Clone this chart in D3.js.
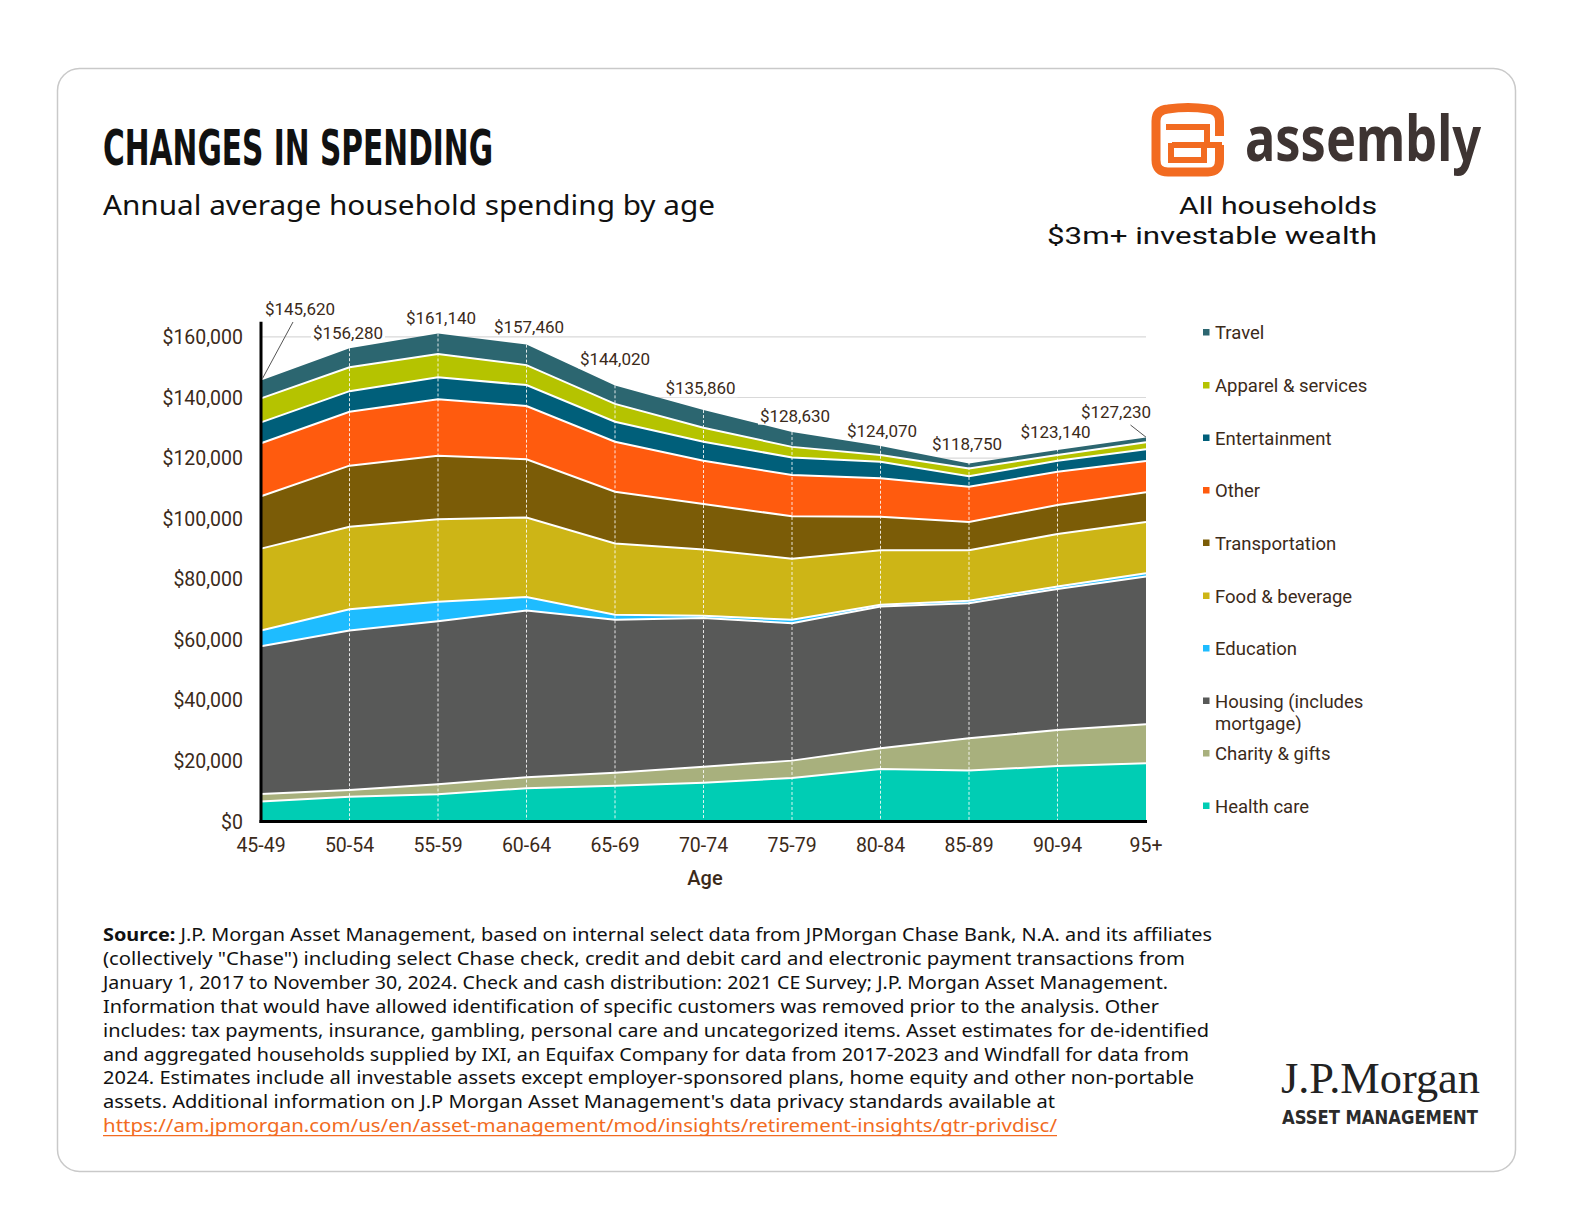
<!DOCTYPE html>
<html>
<head>
<meta charset="utf-8">
<script src="https://cdn.jsdelivr.net/npm/d3@7"></script>
<style>
  html, body { margin: 0; padding: 0; background: #fff; }
  svg { display: block; }
</style>
</head>
<body>
<svg id="chart" width="1584" height="1224"></svg>
<script>
// age buckets
const ages = ['45-49', '50-54', '55-59', '60-64', '65-69', '70-74', '75-79', '80-84', '85-89', '90-94', '95+'];

// series values in $ thousands (bottom of the stack first)
const healthCare     = [6.6, 8.2, 9.0, 11.0, 11.8, 12.8, 14.4, 17.3, 16.8, 18.3, 19.2];
const charityGifts   = [2.5, 2.2, 3.3, 3.6, 4.3, 5.3, 5.7, 6.9, 10.7, 11.9, 12.9];
const housing        = [48.8, 52.7, 53.8, 55.1, 50.5, 49.1, 45.4, 46.8, 44.6, 46.6, 48.8];
const education      = [5.2, 7.0, 6.5, 4.4, 1.7, 0.7, 1.1, 0.6, 0.8, 0.8, 1.1];
const foodBeverage   = [27.0, 27.2, 27.2, 26.3, 23.5, 21.9, 20.2, 18.0, 16.7, 17.3, 16.9];
const transportation = [17.3, 20.2, 21.0, 19.2, 17.1, 15.0, 14.0, 11.0, 9.3, 9.6, 9.8];
const other          = [17.5, 17.8, 18.6, 17.6, 16.5, 14.3, 13.6, 12.7, 11.6, 11.0, 10.3];
const entertainment  = [6.9, 6.8, 7.3, 6.9, 6.6, 6.3, 5.8, 5.5, 3.5, 3.6, 3.9];
const apparel        = [7.9, 7.9, 7.7, 6.6, 5.9, 4.6, 3.5, 2.2, 2.6, 1.9, 2.3];
const travel         = [5.9, 6.3, 6.7, 6.8, 6.1, 5.9, 4.9, 3.0, 1.6, 1.7, 1.6];

// totals printed above the stack
const totals = [145620, 156280, 161140, 157460, 144020, 135860, 128630, 124070, 118750, 123140, 127230];

const yTicks = [0, 20000, 40000, 60000, 80000, 100000, 120000, 140000, 160000];

const seriesNames = ['Health care', 'Charity & gifts', 'Housing (includes mortgage)', 'Education',
  'Food & beverage', 'Transportation', 'Other', 'Entertainment', 'Apparel & services', 'Travel'];
const seriesValues = [healthCare, charityGifts, housing, education, foodBeverage,
  transportation, other, entertainment, apparel, travel];
const seriesColors = ['#00CDB4', '#A8B07D', '#585958', '#1EBCFF', '#CDB516',
  '#7B5C07', '#FF5B0E', '#005F7A', '#B5C300', '#2C6670'];

// small nudges for the total labels (layout only)
const labelDx = [39, -1.5, 3, 2.5, 0, -3, 3, 1.5, -2, -2, -30];
const labelDy = [-71.5, -15.5, -15.2, -18, -26, -21.8, -16.3, -14.8, -18, -16.3, -24];

const footLines = [
  'J.P. Morgan Asset Management, based on internal select data from JPMorgan Chase Bank, N.A. and its affiliates',
  '(collectively "Chase") including select Chase check, credit and debit card and electronic payment transactions from',
  'January 1, 2017 to November 30, 2024. Check and cash distribution: 2021 CE Survey; J.P. Morgan Asset Management.',
  'Information that would have allowed identification of specific customers was removed prior to the analysis. Other',
  'includes: tax payments, insurance, gambling, personal care and uncategorized items. Asset estimates for de-identified',
  'and aggregated households supplied by IXI, an Equifax Company for data from 2017-2023 and Windfall for data from',
  '2024. Estimates include all investable assets except employer-sponsored plans, home equity and other non-portable',
  "assets. Additional information on J.P Morgan Asset Management's data privacy standards available at",
  'https://am.jpmorgan.com/us/en/asset-management/mod/insights/retirement-insights/gtr-privdisc/'
];
const footWidths = [1109, 1082, 1065, 1056, 1106, 1086, 1091, 952, 954];

const svg = d3.select('#chart');
const labelColor = '#3b2a1a';
const tickFont = 'Roboto, "Noto Sans", sans-serif';
const bodyFont = '"Noto Sans", "Open Sans", sans-serif';

// card
svg.append('rect')
  .attr('x', 57.5).attr('y', 68.5).attr('width', 1458).attr('height', 1103)
  .attr('rx', 22).attr('fill', '#fff').attr('stroke', '#c9c9c9').attr('stroke-width', 1.5);

// title + subtitles
svg.append('text')
  .attr('x', 103).attr('y', 165)
  .attr('font-family', '"Liberation Sans Narrow", "DejaVu Sans Condensed", sans-serif')
  .attr('font-weight', 700).attr('font-size', 50)
  .attr('textLength', 390).attr('lengthAdjust', 'spacingAndGlyphs')
  .attr('fill', '#111').text('CHANGES IN SPENDING');

svg.append('text')
  .attr('x', 103).attr('y', 215)
  .attr('font-family', bodyFont).attr('font-size', 28)
  .attr('textLength', 612).attr('lengthAdjust', 'spacingAndGlyphs')
  .attr('fill', '#111').text('Annual average household spending by age');

svg.append('text')
  .attr('x', 1377).attr('y', 214).attr('text-anchor', 'end')
  .attr('font-family', tickFont).attr('font-size', 24.5)
  .attr('textLength', 198).attr('lengthAdjust', 'spacingAndGlyphs')
  .attr('fill', '#111').text('All households');
svg.append('text')
  .attr('x', 1377).attr('y', 244).attr('text-anchor', 'end')
  .attr('font-family', tickFont).attr('font-size', 24.5)
  .attr('textLength', 330).attr('lengthAdjust', 'spacingAndGlyphs')
  .attr('fill', '#111').text('$3m+ investable wealth');

// assembly logo
const logo = svg.append('g').attr('fill', 'none').attr('stroke', '#F26B21');
logo.append('path')
  .attr('d', 'M1219.5,136 L1219.5,121 Q1219.5,110 1208,109 Q1188,106 1168,109 Q1156,110 1156,121 L1156,160 Q1156,172 1168,172 L1208,172 Q1219.5,172 1219.5,160 L1219.5,145')
  .attr('stroke-width', 9);
logo.append('path')
  .attr('d', 'M1166,127 L1207,127 L1207,145 M1172,145 L1222,145 M1171,143 L1171,160 L1204,160 L1204,147')
  .attr('stroke-width', 6);
svg.append('text')
  .attr('x', 1245).attr('y', 161)
  .attr('font-family', bodyFont).attr('font-weight', 700).attr('font-size', 62)
  .attr('textLength', 236).attr('lengthAdjust', 'spacingAndGlyphs')
  .attr('fill', '#3e3432').text('assembly');

// scales
const x = d3.scalePoint().domain(ages).range([261, 1146]);
const y = d3.scaleLinear().domain([0, 165000]).range([821.5, 321.8]);

// gridlines
svg.append('g').selectAll('line')
  .data(yTicks.slice(1))
  .join('line')
  .attr('x1', 261).attr('x2', 1146)
  .attr('y1', d => y(d)).attr('y2', d => y(d))
  .attr('stroke', '#d9d9d9').attr('stroke-width', 1.2);

// stack
const rows = ages.map((a, i) => {
  const r = { age: a };
  seriesNames.forEach((n, k) => { r[n] = seriesValues[k][i] * 1000; });
  return r;
});
const stacked = d3.stack().keys(seriesNames)(rows);

const area = d3.area()
  .x(d => x(d.data.age))
  .y0(d => y(d[0]))
  .y1(d => y(d[1]));

svg.append('g').selectAll('path')
  .data(stacked)
  .join('path')
  .attr('d', area)
  .attr('fill', (d, i) => seriesColors[i]);

// white separators between layers
const topLine = d3.line().x(d => x(d.data.age)).y(d => y(d[1]));
svg.append('g').selectAll('path')
  .data(stacked.slice(0, -1))
  .join('path')
  .attr('d', topLine)
  .attr('fill', 'none').attr('stroke', '#fff').attr('stroke-width', 2);

// dashed verticals
svg.append('g').selectAll('line')
  .data(ages.slice(1, -1))
  .join('line')
  .attr('x1', d => x(d)).attr('x2', d => x(d))
  .attr('y1', (d, i) => y(totals[i + 1])).attr('y2', y(0))
  .attr('stroke', '#fff').attr('stroke-width', 1).attr('stroke-dasharray', '3,2')
  .attr('opacity', 0.85);

// axes lines
svg.append('line')
  .attr('x1', 261).attr('x2', 261).attr('y1', y(165000)).attr('y2', y(0) + 1.5)
  .attr('stroke', '#000').attr('stroke-width', 3);
svg.append('line')
  .attr('x1', 259.5).attr('x2', 1147).attr('y1', y(0)).attr('y2', y(0))
  .attr('stroke', '#000').attr('stroke-width', 3);

// y tick labels
svg.append('g').selectAll('text')
  .data(yTicks)
  .join('text')
  .attr('x', 243).attr('y', d => y(d) + 7)
  .attr('text-anchor', 'end')
  .attr('font-family', tickFont).attr('font-size', 19.5)
  .attr('fill', labelColor)
  .text(d => '$' + d3.format(',')(d));

// x tick labels
svg.append('g').selectAll('text')
  .data(ages)
  .join('text')
  .attr('x', d => x(d)).attr('y', 851.5)
  .attr('text-anchor', 'middle')
  .attr('font-family', tickFont).attr('font-size', 19.5)
  .attr('fill', labelColor)
  .text(d => d);

svg.append('text')
  .attr('x', 705).attr('y', 885).attr('text-anchor', 'middle')
  .attr('font-family', tickFont).attr('font-weight', 500).attr('font-size', 20)
  .attr('fill', labelColor).text('Age');

// total labels with leaders
svg.append('line')
  .attr('x1', 293).attr('y1', 322).attr('x2', x(ages[0]) + 1.5).attr('y2', y(totals[0]) - 2)
  .attr('stroke', '#555').attr('stroke-width', 1);
svg.append('line')
  .attr('x1', 1130.5).attr('y1', 425).attr('x2', x(ages[10])).attr('y2', y(totals[10]) + 1)
  .attr('stroke', '#555').attr('stroke-width', 1);

const lab = svg.append('g').selectAll('g')
  .data(totals)
  .join('g')
  .attr('transform', (d, i) => `translate(${x(ages[i]) + labelDx[i]},${y(d) + labelDy[i]})`);
lab.append('rect')
  .attr('x', -37).attr('y', -9).attr('width', 74).attr('height', 18)
  .attr('fill', '#fff');
lab.append('text')
  .attr('y', 6).attr('text-anchor', 'middle')
  .attr('font-family', tickFont).attr('font-size', 17)
  .attr('fill', labelColor)
  .text(d => '$' + d3.format(',')(d));

// legend (top of stack first)
const legendY = [332.5, 385.5, 438, 490.5, 543, 596, 648.5, 701, 753.5, 806];
const leg = svg.append('g').selectAll('g')
  .data(seriesNames.slice().reverse())
  .join('g')
  .attr('transform', (d, i) => `translate(1203,${legendY[i]})`);
leg.append('rect')
  .attr('x', 0).attr('y', -3.5).attr('width', 6.5).attr('height', 6.5)
  .attr('fill', (d, i) => seriesColors[seriesColors.length - 1 - i]);
leg.append('text')
  .attr('x', 12).attr('y', 6.5)
  .attr('font-family', tickFont).attr('font-size', 18.5)
  .attr('fill', labelColor)
  .each(function (d) {
    const t = d3.select(this);
    if (d.startsWith('Housing')) {
      t.append('tspan').attr('x', 12).text('Housing (includes');
      t.append('tspan').attr('x', 12).attr('dy', 22).text('mortgage)');
    } else {
      t.text(d);
    }
  });

// footer
const foot = svg.append('g')
  .attr('font-family', '"Noto Sans", "Open Sans", sans-serif')
  .attr('font-size', 17.5).attr('fill', '#111');
footLines.forEach((line, i) => {
  const t = foot.append('text')
    .attr('x', 103).attr('y', 941 + i * 23.9)
    .attr('textLength', footWidths[i]).attr('lengthAdjust', 'spacingAndGlyphs');
  if (i === 0) {
    t.append('tspan').attr('font-weight', 700).text('Source: ');
    t.append('tspan').text(line);
  } else if (i === footLines.length - 1) {
    t.attr('fill', '#F26B21').text(line);
  } else {
    t.text(line);
  }
});
svg.append('line')
  .attr('x1', 103).attr('x2', 103 + footWidths[8])
  .attr('y1', 941 + 8 * 23.9 + 3.5).attr('y2', 941 + 8 * 23.9 + 3.5)
  .attr('stroke', '#F26B21').attr('stroke-width', 1.2);

// J.P. Morgan logo
svg.append('text')
  .attr('x', 1281).attr('y', 1093)
  .attr('font-family', '"Liberation Serif", "DejaVu Serif", serif').attr('font-size', 45)
  .attr('textLength', 199).attr('lengthAdjust', 'spacingAndGlyphs')
  .attr('fill', '#222').text('J.P.Morgan');
svg.append('text')
  .attr('x', 1282).attr('y', 1124)
  .attr('font-family', '"Liberation Sans Narrow", "DejaVu Sans Condensed", sans-serif')
  .attr('font-weight', 700).attr('font-size', 20)
  .attr('textLength', 196).attr('lengthAdjust', 'spacingAndGlyphs')
  .attr('fill', '#2b2b2b').text('ASSET MANAGEMENT');
</script>
</body>
</html>
